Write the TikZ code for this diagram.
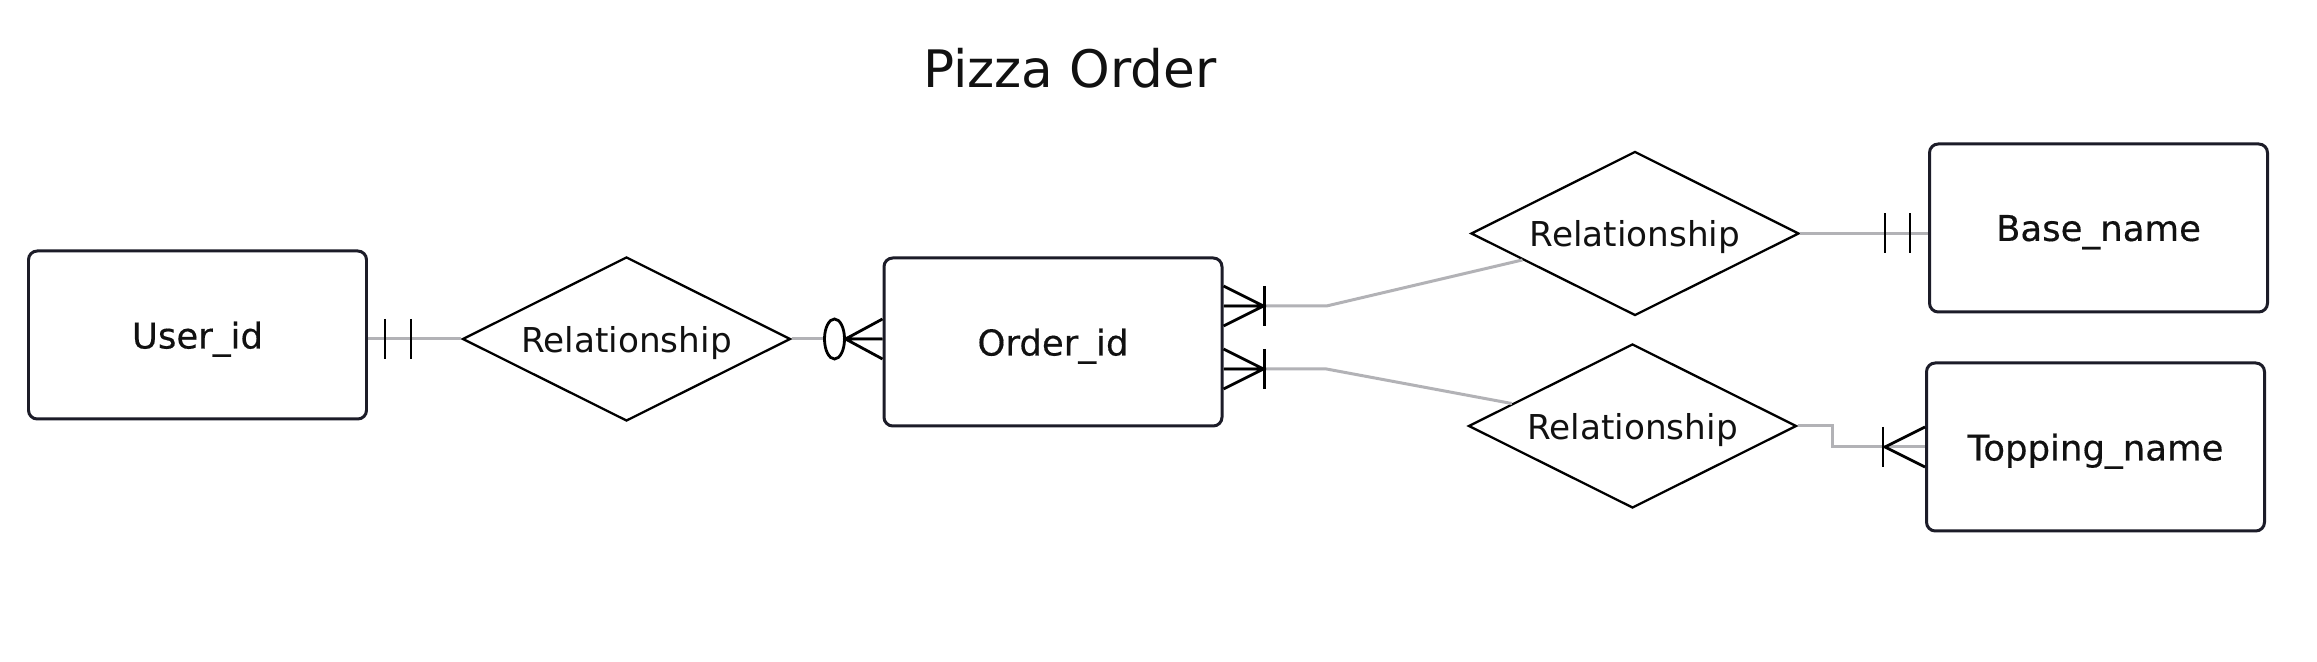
\documentclass[tikz,border=0pt]{standalone}
\usepackage{fontspec}
\setmainfont{DejaVu Sans}
\newfontfamily\entityfont[FakeBold=0.4]{DejaVu Sans}
\usetikzlibrary{shapes.geometric}
\definecolor{boxline}{RGB}{28,28,40}
\definecolor{linkgray}{RGB}{178,178,182}
\definecolor{inkblack}{RGB}{17,17,17}
\begin{document}
\begin{tikzpicture}[
		entity/.style={draw=boxline, line width=0.85pt, rounded corners=2.5pt, minimum width=3.38cm, minimum height=1.68cm, inner sep=0pt, text depth=0pt, font=\entityfont\fontsize{10.1}{12}\selectfont, text=inkblack},
		relation/.style={draw=black, line width=0.65pt, shape=diamond, aspect=2, minimum width=3.28cm, minimum height=1.64cm, inner sep=0pt, text depth=0pt, font=\fontsize{9.75}{12}\selectfont, text=inkblack},
		link/.style={draw=linkgray, line width=0.85pt},
		crow/.style={draw=black, line width=0.8pt}]
			\fill[white] (0,0) rectangle (23.17,-6.62);
			\useasboundingbox (0,0) rectangle (23.17,-6.62);

			% Титул
			\node[font=\fontsize{14.7}{18}\selectfont, text=inkblack, anchor=base] (title) at (10.70,-0.88) {Pizza Order};

			% Сущности и связи
			\node[entity] (user) at (1.975,-3.35) {User\_id};
			\node[relation] (rel1) at (6.265,-3.39) {Relationship};
			\node[entity] (order) at (10.53,-3.42) {Order\_id};
			\node[relation] (relbase) at (16.35,-2.335) {Relationship};
			\node[entity] (base) at (20.985,-2.28) {Base\_name};
			\node[relation] (reltop) at (16.325,-4.26) {Relationship};
			\node[entity] (topping) at (20.955,-4.47) {Topping\_name};

			% User -- Relationship
			\coordinate (ua) at (user.east |- rel1.west);
			\draw[link] (ua) -- (rel1.west);
			\foreach \dx in {0.17,0.43}
				\draw[crow] ([shift={(\dx,0.2)}]ua) -- ([shift={(\dx,-0.2)}]ua);

			% Relationship -- Order
			\coordinate (ob) at (rel1.east -| order.west);
			\draw[link] (rel1.east) -- (ob);
			\draw[crow, fill=white] ([xshift=-0.48cm]ob) ellipse (0.1 and 0.2);
			\draw[crow] ([yshift=0.2cm]ob) -- ([xshift=-0.37cm]ob) -- ([yshift=-0.2cm]ob)
				([xshift=-0.37cm]ob) -- (ob);

			% Order -- Relationship (Base)
			\coordinate (oa) at ([yshift=0.36cm]order.east);
			\coordinate (ka) at ([xshift=1.03cm]oa);
			\draw[link] (oa) -- (ka) -- (relbase);
			\draw[crow] ([yshift=0.2cm]oa) -- ([xshift=0.4cm]oa) -- ([yshift=-0.2cm]oa)
				(oa) -- ([xshift=0.4cm]oa);
			\draw[crow] ([shift={(0.41,0.2)}]oa) -- ([shift={(0.41,-0.2)}]oa);

			% Order -- Relationship (Topping)
			\coordinate (oc) at ([yshift=-0.27cm]order.east);
			\coordinate (kc) at ([xshift=1.03cm]oc);
			\draw[link] (oc) -- (kc) -- (reltop);
			\draw[crow] ([yshift=0.2cm]oc) -- ([xshift=0.4cm]oc) -- ([yshift=-0.2cm]oc)
				(oc) -- ([xshift=0.4cm]oc);
			\draw[crow] ([shift={(0.41,0.2)}]oc) -- ([shift={(0.41,-0.2)}]oc);

			% Relationship -- Base
			\coordinate (bb) at (relbase.east -| base.west);
			\draw[link] (relbase.east) -- (bb);
			\foreach \dx in {0.43,0.18}
				\draw[crow] ([shift={(-\dx,0.2)}]bb) -- ([shift={(-\dx,-0.2)}]bb);

			% Relationship -- Topping
			\draw[link] (reltop.east) -- ++(0.35,0) |- (topping.west);
			\draw[crow] ([yshift=0.2cm]topping.west) -- ([xshift=-0.4cm]topping.west) -- ([yshift=-0.2cm]topping.west);
			\draw[crow] ([shift={(-0.42,0.2)}]topping.west) -- ([shift={(-0.42,-0.2)}]topping.west);
		\end{tikzpicture}
\end{document}
